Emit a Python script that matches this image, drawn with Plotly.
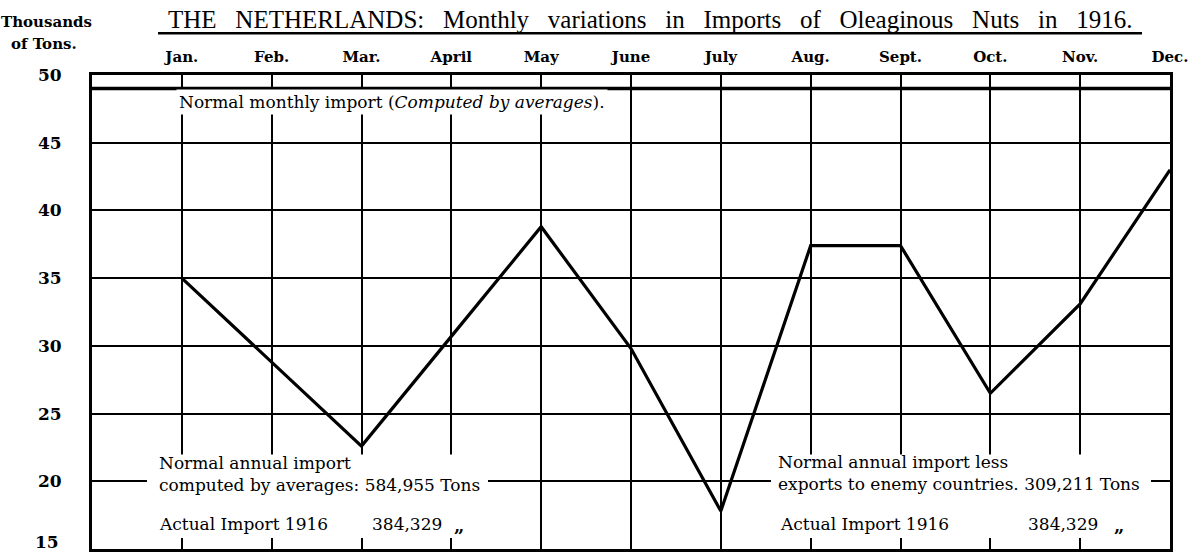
import plotly.graph_objects as go

# Monthly imports of oleaginous nuts, Netherlands 1916 (thousands of tons)
months = ["Jan.", "Feb.", "Mar.", "April", "May", "June",
          "July", "Aug.", "Sept.", "Oct.", "Nov.", "Dec."]
month_pos = list(range(1, 13))
imports_1916 = [35.0, 28.8, 22.6, 30.7, 38.8, 29.8, 17.8, 37.4, 37.4, 26.5, 33.1, 43.0]
normal_monthly = 49.0
y_ticks = [15, 20, 25, 30, 35, 40, 45, 50]

W, H = 1193, 554
L, R, T, B = 92, 1170, 75, 552
TITLE_FONT = "Liberation Serif, Times New Roman, serif"
BODY_FONT = "DejaVu Serif, serif"


def px(x):
    return (x - L) / (R - L)


def py(y):
    return (B - y) / (B - T)


fig = go.Figure()

# normal monthly import (heavy horizontal rule)
fig.add_trace(go.Scatter(
    x=[0, 12], y=[normal_monthly, normal_monthly], mode="lines",
    line=dict(color="black", width=3.5), hoverinfo="skip", showlegend=False,
    cliponaxis=False,
))

# actual 1916 imports
fig.add_trace(go.Scatter(
    x=month_pos, y=imports_1916, mode="lines",
    line=dict(color="black", width=3.2), showlegend=False, cliponaxis=False,
))

shapes = [
    # white panels behind the two annotation blocks at the bottom
    dict(type="rect", xref="paper", yref="paper", layer="above",
         x0=px(147), x1=px(488), y0=py(541), y1=py(457),
         fillcolor="white", line=dict(width=0)),
    dict(type="rect", xref="paper", yref="paper", layer="above",
         x0=px(771), x1=px(1151), y0=py(541), y1=py(457),
         fillcolor="white", line=dict(width=0)),
    # title underline
    dict(type="line", xref="paper", yref="paper",
         x0=px(158), x1=px(1142), y0=py(33), y1=py(33),
         line=dict(color="black", width=2.5)),
]


def note(x, y, text, size=17, xanchor="left", bg=None, family=BODY_FONT):
    d = dict(xref="paper", yref="paper", x=px(x), y=py(y), text=text,
             showarrow=False, xanchor=xanchor, yanchor="middle", align="left",
             font=dict(family=family, size=size, color="black"))
    if bg:
        d.update(bgcolor=bg, borderpad=2)
    return d


SP = "\u00a0\u00a0 "
title = SP.join(["THE", "NETHERLANDS:", "Monthly", "variations", "in", "Imports",
                 "of", "Oleaginous", "Nuts", "in", "1916."])

annotations = [
    note(650, 19, title, size=25, xanchor="center", family=TITLE_FONT),
    # unit label
    note(46, 22, "<b>Thousands</b>", size=15, xanchor="center"),
    note(44, 44, "<b>of Tons.</b>", size=15, xanchor="center"),
    # normal line label
    note(176, 102, "Normal monthly import (<i>Computed by averages</i>).", bg="white"),
    # left block
    note(157, 477, "Normal annual import<br>computed by averages: 584,955 Tons"),
    note(157, 527, "Actual Import 1916"),
    note(370, 527, "384,329"),
    note(452, 528, "<b>\u201e</b>", size=18),
    # right block
    note(776, 476, "Normal annual import less<br>exports to enemy countries. 309,211 Tons"),
    note(778, 527, "Actual Import 1916"),
    note(1026, 527, "384,329"),
    note(1112, 528, "<b>\u201e</b>", size=18),
    # lowest axis value sits just above the bottom frame
    dict(xref="paper", yref="y", x=px(61), y=y_ticks[0], yshift=7,
         text=f"<b>{y_ticks[0]}</b>", showarrow=False, xanchor="right",
         yanchor="middle", font=dict(family=BODY_FONT, size=17, color="black")),
]

fig.update_layout(
    width=W, height=H,
    margin=dict(l=L, r=W - R, t=T, b=H - B),
    paper_bgcolor="white", plot_bgcolor="white",
    shapes=shapes, annotations=annotations,
    showlegend=False,
    xaxis=dict(
        range=[0, 12], side="top",
        tickmode="array", tickvals=month_pos,
        ticktext=[f"<b>{m}</b>" for m in months],
        tickfont=dict(family=BODY_FONT, size=15, color="black"),
        ticks="", ticklabelstandoff=4,
        showgrid=True, gridcolor="black", gridwidth=1.6,
        showline=True, linecolor="black", linewidth=3, mirror=True,
        zeroline=False, fixedrange=True,
    ),
    yaxis=dict(
        range=[15, 50],
        tickmode="array", tickvals=y_ticks,
        ticktext=[""] + [f"<b>{v}</b>" for v in y_ticks[1:]],
        tickfont=dict(family=BODY_FONT, size=17, color="black"),
        ticks="", ticklabelstandoff=24,
        showgrid=True, gridcolor="black", gridwidth=2,
        showline=True, linecolor="black", linewidth=3, mirror=True,
        zeroline=False, fixedrange=True,
    ),
)

fig.write_html("out.html")
